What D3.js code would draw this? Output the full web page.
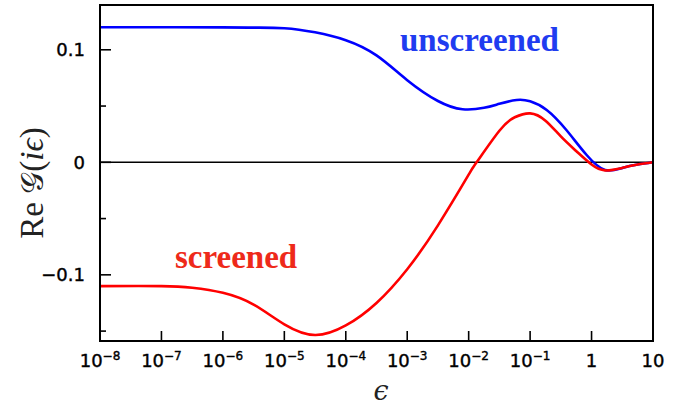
<!DOCTYPE html>
<html lang="en">
  <head>
    <meta charset="utf-8" />
    <title>Re G(i eps)</title>
    <script src="https://d3js.org/d3.v7.min.js" charset="utf-8"></script>
    <style>
      body { margin: 0; background: #fff; }
      .tick-label { font-family: "DejaVu Sans", sans-serif; font-size: 18px; fill: #000; stroke: #000; stroke-width: 0.4px; }
    </style>
  </head>
  <body>
    <div id="graph-container"></div>
    <script type="text/javascript">
      // log10(epsilon) and Re G values
      const unscreenedLog = [-8, -7, -6, -5.5, -5, -4.5, -4, -3.5, -3, -2.5, -2.1, -1.75, -1.5, -1.22, -1, -0.73, -0.41, -0.08, 0.22, 0.5, 0.75, 1];
      const unscreenedVal = [0.12, 0.12, 0.1199, 0.1197, 0.1192, 0.1155, 0.1085, 0.095, 0.073, 0.0545, 0.0472, 0.0485, 0.052, 0.0554, 0.0542, 0.0465, 0.0287, 0.0065, -0.0068, -0.005, -0.002, 0];
      const screenedLog = [-8, -7, -6.5, -6, -5.5, -5, -4.5, -4, -3.5, -3, -2.5, -2, -1.87, -1.5, -1.25, -1, -0.75, -0.5, -0.25, 0, 0.22, 0.5, 0.75, 1];
      const screenedVal = [-0.11, -0.11, -0.1115, -0.116, -0.1265, -0.144, -0.1535, -0.145, -0.125, -0.095, -0.056, -0.011, 0, 0.028, 0.04, 0.0435, 0.037, 0.023, 0.01, -0.002, -0.0072, -0.005, -0.002, 0];
      const xTickExp = [-8, -7, -6, -5, -4, -3, -2, -1, 0, 1];
      const yMajor = [0.1, 0, -0.1];
      const yMinor = [0.05, -0.05, -0.15];

      const cW = 693, cH = 407;
      const cLeft = 100, cRight = 653, cTop = 5, cBottom = 341;

      const svg = d3.select("#graph-container").append("svg")
        .attr("width", cW).attr("height", cH);

      const xScale = d3.scaleLog().domain([1e-8, 10]).range([cLeft, cRight]);
      const yScale = d3.scaleLinear().domain([-0.1588, 0.1398]).range([cBottom, cTop]);

      //zero line
      svg.append("line")
        .attr("x1", cLeft).attr("x2", cRight)
        .attr("y1", yScale(0)).attr("y2", yScale(0))
        .attr("stroke", "#000").attr("stroke-width", 1.6);

      //curves
      const line = d3.line()
        .x((d) => xScale(Math.pow(10, d[0])))
        .y((d) => yScale(d[1]))
        .curve(d3.curveNatural);

      svg.append("path")
        .datum(unscreenedLog.map((v, i) => [v, unscreenedVal[i]]))
        .attr("d", line).attr("fill", "none")
        .attr("stroke", "#0000ff").attr("stroke-width", 2.6);
      svg.append("path")
        .datum(screenedLog.map((v, i) => [v, screenedVal[i]]))
        .attr("d", line).attr("fill", "none")
        .attr("stroke", "#ff0000").attr("stroke-width", 2.6);

      //frame
      svg.append("rect")
        .attr("x", cLeft).attr("y", cTop)
        .attr("width", cRight - cLeft).attr("height", cBottom - cTop)
        .attr("fill", "none").attr("stroke", "#000").attr("stroke-width", 2);

      //x ticks (inside)
      const xg = svg.append("g");
      xTickExp.forEach((e) => {
        const x = xScale(Math.pow(10, e));
        xg.append("line").attr("x1", x).attr("x2", x)
          .attr("y1", cBottom).attr("y2", cBottom - 10)
          .attr("stroke", "#000").attr("stroke-width", 1.6);
        const t = xg.append("text").attr("class", "tick-label")
          .attr("x", x).attr("y", 367).attr("text-anchor", "middle");
        if (e === 0) t.text("1");
        else if (e === 1) t.text("10");
        else {
          t.append("tspan").text("10");
          t.append("tspan").attr("dy", -7).attr("font-size", 12).text("\u2212" + -e);
        }
      });

      //y ticks (inside)
      const yg = svg.append("g");
      yMajor.forEach((v) => {
        const y = yScale(v);
        yg.append("line").attr("x1", cLeft).attr("x2", cLeft + 11)
          .attr("y1", y).attr("y2", y)
          .attr("stroke", "#000").attr("stroke-width", 1.6);
        yg.append("text").attr("class", "tick-label")
          .attr("x", 85).attr("y", y).attr("dy", "0.36em")
          .attr("text-anchor", "end")
          .text(v === 0 ? "0" : d3.format(".1f")(v).replace("-", "\u2212"));
      });
      yMinor.forEach((v) => {
        const y = yScale(v);
        yg.append("line").attr("x1", cLeft).attr("x2", cLeft + 6)
          .attr("y1", y).attr("y2", y)
          .attr("stroke", "#000").attr("stroke-width", 1.6);
      });

      //axis titles
      svg.append("text")
        .attr("x", 381).attr("y", 400).attr("text-anchor", "middle")
        .attr("font-family", "DejaVu Serif, serif").attr("font-style", "italic")
        .attr("font-size", 27).attr("fill", "#222").text("\u03F5");

      const yl = svg.append("text")
        .attr("transform", "translate(43,183) rotate(-90)")
        .attr("text-anchor", "middle").attr("fill", "#222")
        .attr("font-family", "Liberation Serif, serif").attr("font-size", 33);
      yl.append("tspan").text("Re ");
      yl.append("tspan").attr("font-family", "DejaVu Serif, serif").attr("font-size", 31).text("\uD835\uDCA2");
      yl.append("tspan").text("(");
      yl.append("tspan").attr("font-style", "italic").text("i\u03F5");
      yl.append("tspan").text(")");

      //curve labels
      svg.append("text")
        .attr("x", 400).attr("y", 51)
        .attr("font-family", "Liberation Serif, serif").attr("font-weight", "bold")
        .attr("font-size", 33).attr("fill", "#1f3cf0").text("unscreened");
      svg.append("text")
        .attr("x", 175).attr("y", 268)
        .attr("font-family", "Liberation Serif, serif").attr("font-weight", "bold")
        .attr("font-size", 33).attr("fill", "#ee2a1a").text("screened");
    </script>
  </body>
</html>
